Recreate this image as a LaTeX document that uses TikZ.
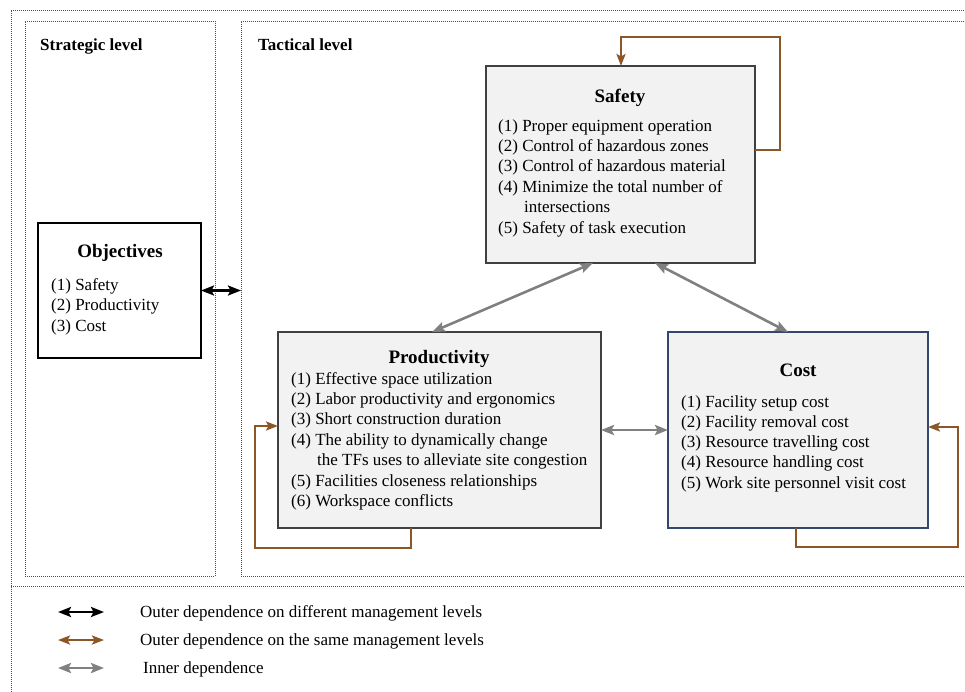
\documentclass[tikz,border=0pt]{standalone}
\usepackage{fontspec}
\setmainfont{Liberation Serif}
\usetikzlibrary{arrows.meta}
\definecolor{brn}{RGB}{140,87,38}
\definecolor{gry}{RGB}{128,128,128}
\definecolor{boxfill}{RGB}{242,242,242}
\definecolor{costedge}{RGB}{50,72,110}
\definecolor{dotc}{RGB}{80,80,80}
\begin{document}
\begin{tikzpicture}[x=1pt,y=-1pt,
  dotbox/.style={draw=dotc, line width=0.8pt, dash pattern=on 1pt off 1pt},
  card/.style={draw=black!75, fill=boxfill, line width=1.3pt, anchor=north west, inner sep=0, outer sep=0},
  ttl/.style={font=\fontsize{19}{22}\selectfont\bfseries, anchor=base, inner sep=0},
  itm/.style={font=\fontsize{17}{20}\selectfont, anchor=base west, inner sep=0},
  lvl/.style={font=\fontsize{17}{20}\selectfont\bfseries, anchor=base west, inner sep=0},
  innerdep/.style={draw=gry, line width=2.6pt, {Stealth[length=13pt,width=10pt,inset=2.5pt]}-{Stealth[length=13pt,width=10pt,inset=2.5pt]}},
  outerdiff/.style={draw=black, line width=2.4pt, {Stealth[length=13pt,width=10pt,inset=2.5pt]}-{Stealth[length=13pt,width=10pt,inset=2.5pt]}},
  outersame/.style={draw=brn, line width=2.4pt, {Stealth[length=12pt,width=9pt,inset=2.5pt]}-{Stealth[length=12pt,width=9pt,inset=2.5pt]}},
  loop/.style={draw=brn, line width=2.4pt, -{Stealth[length=12pt,width=9pt,inset=2.5pt]}}
]
\useasboundingbox (0,0) rectangle (965,691);
\clip (0,0) rectangle (965,691);

% frames
\draw[dotbox] (11,700) -- (11,10) -- (980,10);
\draw[dotbox] (11,586) -- (980,586);
\node[dotbox, anchor=north west, inner sep=0, minimum width=190pt, minimum height=555pt] (str) at (25,21) {};
\node[dotbox, anchor=north west, inner sep=0, minimum width=760pt, minimum height=555pt] (tac) at (241,21) {};
\node[lvl] (strl) at (40,50) {Strategic level};
\node[lvl] (tacl) at (258,50) {Tactical level};

% Objectives
\node[draw=black, fill=white, line width=1.3pt, anchor=north west, inner sep=0, outer sep=0, minimum width=163pt, minimum height=135pt] (obj) at (38,223) {};
\node[ttl] (objt) at (120,257) {Objectives};
\node[itm] (o1) at (51,290) {(1) Safety};
\node[itm] (o2) at (51,310.5) {(2) Productivity};
\node[itm] (o3) at (51,331) {(3) Cost};

% Safety
\node[card, minimum width=269pt, minimum height=197pt] (saf) at (486,66) {};
\node[ttl] (saft) at (620,102) {Safety};
\node[itm] (s1) at (498,131) {(1) Proper equipment operation};
\node[itm] (s2) at (498,151.4) {(2) Control of hazardous zones};
\node[itm] (s3) at (498,171.8) {(3) Control of hazardous material};
\node[itm] (s4) at (498,192.2) {(4) Minimize the total number of};
\node[itm] (s4b) at (524,212.6) {intersections};
\node[itm] (s5) at (498,233) {(5) Safety of task execution};

% Productivity
\node[card, minimum width=323pt, minimum height=196pt] (prod) at (278,332) {};
\node[ttl] (prodt) at (439,363) {Productivity};
\node[itm] (p1) at (291,384) {(1) Effective space utilization};
\node[itm] (p2) at (291,404.4) {(2) Labor productivity and ergonomics};
\node[itm] (p3) at (291,424.8) {(3) Short construction duration};
\node[itm] (p4) at (291,445.2) {(4) The ability to dynamically change};
\node[itm] (p4b) at (317,465.6) {the TFs uses to alleviate site congestion};
\node[itm] (p5) at (291,486) {(5) Facilities closeness relationships};
\node[itm] (p6) at (291,506.4) {(6) Workspace conflicts};

% Cost
\node[card, draw=costedge, minimum width=260pt, minimum height=196pt] (cost) at (668,332) {};
\node[ttl] (costt) at (798,376) {Cost};
\node[itm] (c1) at (681,407) {(1) Facility setup cost};
\node[itm] (c2) at (681,427.3) {(2) Facility removal cost};
\node[itm] (c3) at (681,447.6) {(3) Resource travelling cost};
\node[itm] (c4) at (681,467.9) {(4) Resource handling cost};
\node[itm] (c5) at (681,488.2) {(5) Work site personnel visit cost};

% connectors
\draw[outerdiff] (obj.east) -- (obj.east -| tac.west);
\draw[innerdep] ([xshift=107pt]saf.south west) -- ([xshift=154pt]prod.north west);
\draw[innerdep] ([xshift=169pt]saf.south west) -- ([xshift=120pt]cost.north west);
\draw[innerdep] (prod.east) -- (cost.west);

\coordinate (sl) at (780,37);
\coordinate (pl) at (255,548);
\coordinate (cl) at (958,547);
\draw[loop] ([yshift=14.5pt]saf.east) -| (sl) -| ([xshift=135pt]saf.north west);
\draw[loop] ([xshift=133pt]prod.south west) |- (pl) |- ([yshift=4pt]prod.west);
\draw[loop] ([xshift=128pt]cost.south west) |- (cl) |- ([yshift=3pt]cost.east);

% legend
\coordinate (la1) at (58,612);  \coordinate (lb1) at (104,612);
\coordinate (la2) at (58,640);  \coordinate (lb2) at (104,640);
\coordinate (la3) at (58,668);  \coordinate (lb3) at (104,668);
\draw[outerdiff] (la1) -- (lb1);
\draw[outersame] (la2) -- (lb2);
\draw[innerdep] (la3) -- (lb3);
\node[itm] (lt1) at (140,617) {Outer dependence on different management levels};
\node[itm] (lt2) at (140,645) {Outer dependence on the same management levels};
\node[itm] (lt3) at (143,673) {Inner dependence};
\end{tikzpicture}
\end{document}
